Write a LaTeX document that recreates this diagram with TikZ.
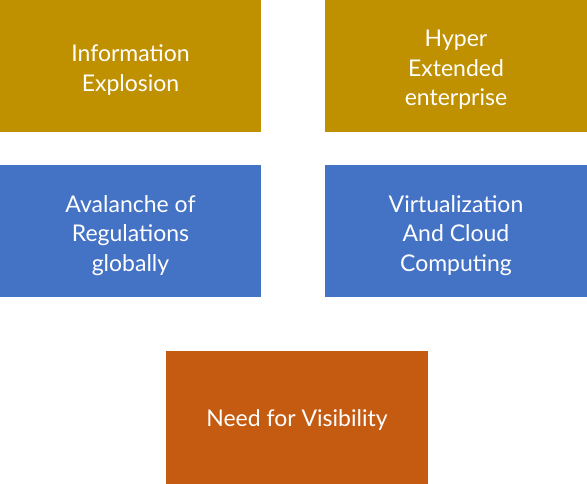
\documentclass[tikz,border=0pt]{standalone}
\usepackage{fontspec}
\setmainfont{Lato}
\definecolor{cgold}{HTML}{BF9000}
\definecolor{cblue}{HTML}{4472C4}
\definecolor{corange}{HTML}{C55A11}
\begin{document}
\begin{tikzpicture}[x=1pt,y=-1pt,
  box/.style={inner sep=0pt,outer sep=0pt,minimum width=262pt,minimum height=132pt},
  txt/.style={inner sep=0pt,text=white,align=center,font=\fontsize{23}{29.5}\selectfont},
]
\useasboundingbox (0,0) rectangle (587,484);
\node[box,fill=cgold,minimum width=261pt] (a) at (130.5,66) {};
\node[box,fill=cgold] (b) at (456,66) {};
\node[box,fill=cblue,minimum width=261pt] (c) at (130.5,231) {};
\node[box,fill=cblue] (d) at (456,231) {};
\node[box,fill=corange,minimum height=133pt] (e) at (297,417.5) {};
\node[txt] (ta) at ([yshift=-4pt]a.center) {Information\\Explosion};
\node[txt] (tb) at ([yshift=-4pt]b.center) {Hyper\\Extended\\enterprise};
\node[txt] (tc) at ([yshift=-4.5pt]c.center) {Avalanche of\\Regulations\\globally};
\node[txt] (td) at ([yshift=-4.5pt]d.center) {Virtualization\\And Cloud\\Computing};
\node[txt] (te) at ([yshift=-3pt]e.center) {Need for Visibility};
\end{tikzpicture}
\end{document}
